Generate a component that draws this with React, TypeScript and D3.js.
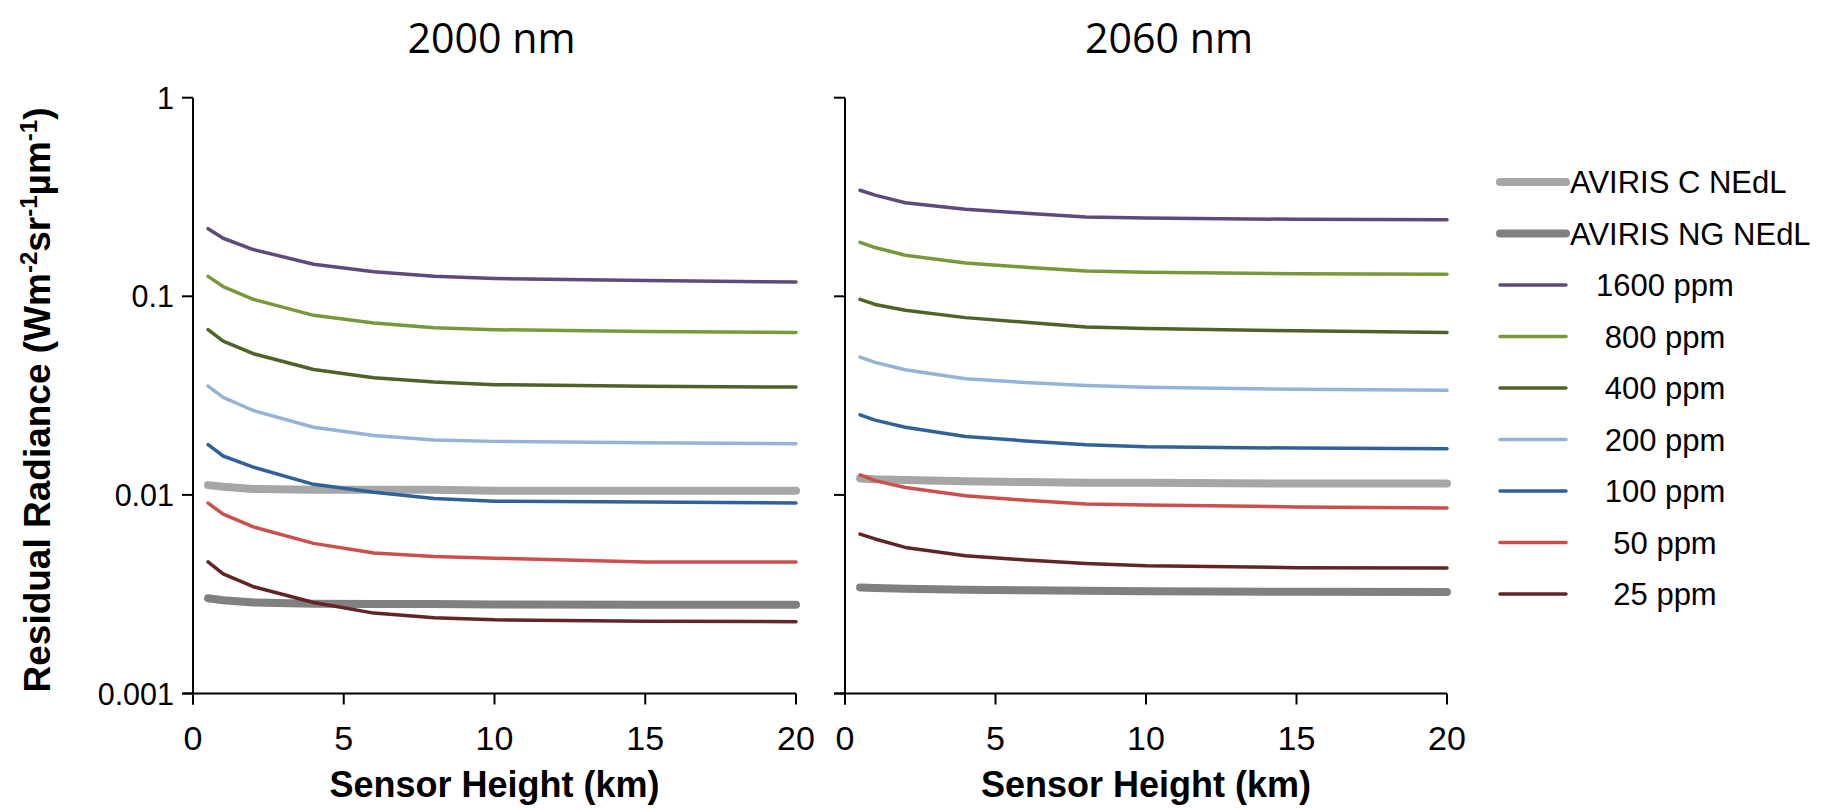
import React from "react";
import * as d3 from "d3";

// Sensor heights (km) at which residual radiance was computed
const heights = [0.5, 1, 2, 4, 6, 8, 10, 15, 20];

// Series names and styling, in legend order
const seriesNames = [
  "AVIRIS C NEdL",
  "AVIRIS NG NEdL",
  "1600 ppm",
  "800 ppm",
  "400 ppm",
  "200 ppm",
  "100 ppm",
  "50 ppm",
  "25 ppm",
];
const seriesColors = [
  "#a6a6a6",
  "#808080",
  "#5f4a7d",
  "#78993a",
  "#4f6228",
  "#95b3d7",
  "#32619a",
  "#cc4f4d",
  "#632523",
];
const seriesThick = [true, true, false, false, false, false, false, false, false];

// 2000 nm panel values (W m-2 sr-1 µm-1)
const nm2000_aviC = [0.0112, 0.011, 0.0107, 0.0106, 0.0106, 0.0106, 0.0105, 0.0105, 0.0105];
const nm2000_aviNG = [0.00302, 0.00295, 0.00287, 0.00283, 0.00282, 0.00282, 0.00281, 0.0028, 0.0028];
const nm2000_1600 = [0.219, 0.196, 0.172, 0.145, 0.133, 0.126, 0.123, 0.12, 0.118];
const nm2000_800 = [0.126, 0.112, 0.0966, 0.0802, 0.0733, 0.0695, 0.0679, 0.0665, 0.0658];
const nm2000_400 = [0.0679, 0.0595, 0.0514, 0.0428, 0.0389, 0.037, 0.0359, 0.0352, 0.0349];
const nm2000_200 = [0.0353, 0.031, 0.0266, 0.0219, 0.0199, 0.0189, 0.0186, 0.0183, 0.0181];
const nm2000_100 = [0.0179, 0.0157, 0.0138, 0.0113, 0.0103, 0.0096, 0.0093, 0.0092, 0.0091];
const nm2000_50 = [0.0091, 0.008, 0.0069, 0.0057, 0.0051, 0.0049, 0.0048, 0.0046, 0.0046];
const nm2000_25 = [0.0046, 0.004, 0.00345, 0.00287, 0.00254, 0.00241, 0.00235, 0.00231, 0.0023];

// 2060 nm panel values (W m-2 sr-1 µm-1)
const nm2060_aviC = [0.0121, 0.012, 0.0119, 0.0117, 0.0116, 0.0115, 0.0115, 0.0114, 0.0114];
const nm2060_aviNG = [0.00342, 0.0034, 0.00337, 0.00333, 0.00331, 0.00329, 0.00327, 0.00325, 0.00324];
const nm2060_1600 = [0.342, 0.323, 0.296, 0.274, 0.262, 0.251, 0.248, 0.244, 0.243];
const nm2060_800 = [0.187, 0.176, 0.161, 0.147, 0.14, 0.134, 0.132, 0.13, 0.129];
const nm2060_400 = [0.0966, 0.091, 0.085, 0.0781, 0.074, 0.07, 0.0688, 0.067, 0.0658];
const nm2060_200 = [0.0494, 0.0465, 0.0427, 0.0384, 0.0368, 0.0356, 0.0348, 0.034, 0.0336];
const nm2060_100 = [0.0253, 0.0238, 0.0219, 0.0197, 0.0187, 0.0179, 0.0175, 0.0172, 0.0171];
const nm2060_50 = [0.0126, 0.0118, 0.0109, 0.0099, 0.0094, 0.009, 0.0089, 0.0087, 0.0086];
const nm2060_25 = [0.00635, 0.006, 0.00544, 0.00494, 0.0047, 0.00452, 0.0044, 0.0043, 0.00428];

const panel2000 = [nm2000_aviC, nm2000_aviNG, nm2000_1600, nm2000_800, nm2000_400, nm2000_200, nm2000_100, nm2000_50, nm2000_25];
const panel2060 = [nm2060_aviC, nm2060_aviNG, nm2060_1600, nm2060_800, nm2060_400, nm2060_200, nm2060_100, nm2060_50, nm2060_25];

const xTicks = [0, 5, 10, 15, 20];
const yTicks = [0.001, 0.01, 0.1, 1];
const yTickLabels = ["0.001", "0.01", "0.1", "1"];

const W = 1821;
const H = 808;
const FONT = "'Liberation Sans', Arial, sans-serif";
const TOP = 97.7;
const BOTTOM = 693.5;

const yScale = d3.scaleLog().domain([0.001, 1]).range([BOTTOM, TOP]);

type PanelProps = {
  x0: number;
  x1: number;
  title: string;
  titleX: number;
  data: number[][];
  showYLabels: boolean;
};

function Panel({ x0, x1, title, titleX, data, showYLabels }: PanelProps) {
  const xScale = d3.scaleLinear().domain([0, 20]).range([x0, x1]);
  const line = d3
    .line<[number, number]>()
    .x((d) => xScale(d[0]))
    .y((d) => yScale(d[1]));
  const tick = 11;
  return (
    <g>
      <text
        x={titleX}
        y={53}
        textAnchor="middle"
        fontFamily="'Open Sans', sans-serif"
        fontSize={42}
        textLength={168}
        lengthAdjust="spacingAndGlyphs"
        fill="#000"
      >
        {title}
      </text>
      {data.map((vals, i) => (
        <path
          key={seriesNames[i]}
          d={line(heights.map((h, j) => [h, vals[j]] as [number, number])) || ""}
          fill="none"
          stroke={seriesColors[i]}
          strokeWidth={seriesThick[i] ? 8 : 3.5}
          strokeLinecap="round"
          strokeLinejoin="round"
        />
      ))}
      {/* axes */}
      <line x1={x0} x2={x0} y1={TOP} y2={BOTTOM + tick} stroke="#000" strokeWidth={2} />
      <line x1={x0 - tick} x2={x1} y1={BOTTOM} y2={BOTTOM} stroke="#000" strokeWidth={2} />
      {yTicks.map((t, i) => (
        <g key={t}>
          <line x1={x0 - tick} x2={x0} y1={yScale(t)} y2={yScale(t)} stroke="#000" strokeWidth={2} />
          {showYLabels && (
            <text
              x={x0 - 19}
              y={yScale(t) + 11}
              textAnchor="end"
              fontFamily={FONT}
              fontSize={30.5}
              fill="#000"
            >
              {yTickLabels[i]}
            </text>
          )}
        </g>
      ))}
      {xTicks.map((t) => (
        <g key={t}>
          <line x1={xScale(t)} x2={xScale(t)} y1={BOTTOM} y2={BOTTOM + tick} stroke="#000" strokeWidth={2} />
          <text x={xScale(t)} y={750} textAnchor="middle" fontFamily={FONT} fontSize={34} fill="#000">
            {t}
          </text>
        </g>
      ))}
      <text
        x={(x0 + x1) / 2}
        y={797}
        textAnchor="middle"
        fontFamily={FONT}
        fontWeight="bold"
        fontSize={36}
        fill="#000"
      >
        Sensor Height (km)
      </text>
    </g>
  );
}

export default function App() {
  const legendY = d3.range(seriesNames.length).map((i) => 182 + i * 51.5);
  return (
    <svg
      width={W}
      height={H}
      style={{ position: "absolute", left: 0, top: 0, background: "#fff" }}
    >
      <rect width={W} height={H} fill="#fff" />
      <Panel x0={193} x1={796} title="2000 nm" titleX={491.5} data={panel2000} showYLabels={true} />
      <Panel x0={845} x1={1447} title="2060 nm" titleX={1169} data={panel2060} showYLabels={false} />
      <text
        transform="translate(50,400) rotate(-90)"
        textAnchor="middle"
        fontFamily={FONT}
        fontWeight="bold"
        fontSize={37}
        fill="#000"
      >
        Residual Radiance (Wm
        <tspan dy={-13} fontSize={24}>-2</tspan>
        <tspan dy={13}>sr</tspan>
        <tspan dy={-13} fontSize={24}>-1</tspan>
        <tspan dy={13}>µm</tspan>
        <tspan dy={-13} fontSize={24}>-1</tspan>
        <tspan dy={13}>)</tspan>
      </text>
      {seriesNames.map((name, i) => (
        <g key={name}>
          <line
            x1={1500}
            x2={1566}
            y1={legendY[i]}
            y2={legendY[i]}
            stroke={seriesColors[i]}
            strokeWidth={seriesThick[i] ? 8 : 3.5}
            strokeLinecap="round"
          />
          <text
            x={seriesThick[i] ? 1570 : 1665}
            y={legendY[i] + 11}
            textAnchor={seriesThick[i] ? "start" : "middle"}
            fontFamily={FONT}
            fontSize={31}
            fill="#000"
          >
            {name}
          </text>
        </g>
      ))}
    </svg>
  );
}
